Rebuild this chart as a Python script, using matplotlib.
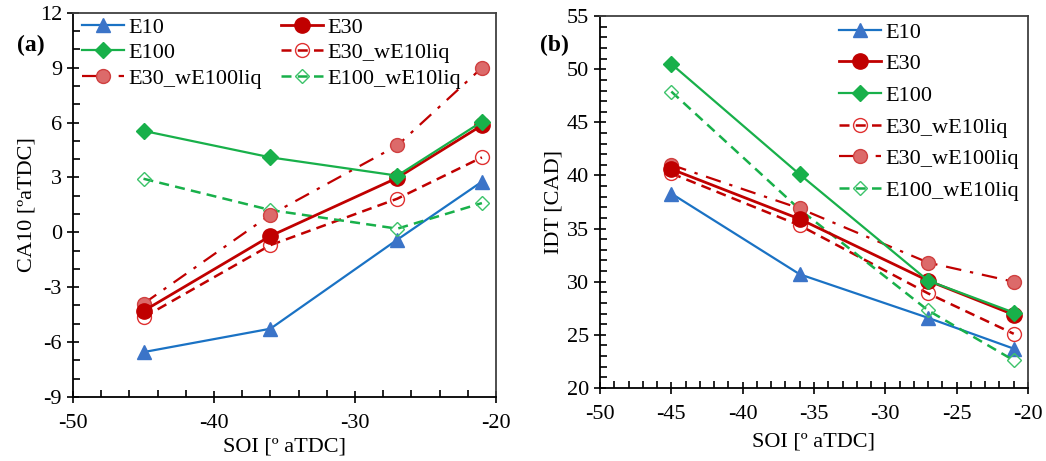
import matplotlib
matplotlib.use("Agg")
import matplotlib.pyplot as plt
from matplotlib.ticker import MultipleLocator

plt.rcParams['font.family'] = ['Liberation Serif', 'DejaVu Serif']
plt.rcParams['axes.unicode_minus'] = False

soi = [-45, -36, -27, -21]

# CA10 [°aTDC]
ca10_e10 = [-6.55, -5.27, -0.4, 2.77]
ca10_e30 = [-4.3, -0.2, 2.98, 5.85]
ca10_e100 = [5.55, 4.1, 3.1, 6.05]
ca10_e30_we10 = [-4.65, -0.7, 1.84, 4.1]
ca10_e30_we100 = [-3.9, 0.96, 4.75, 9.0]
ca10_e100_we10 = [2.93, 1.22, 0.2, 1.6]

# IDT [CAD]
idt_e10 = [38.3, 30.7, 26.6, 23.7]
idt_e30 = [40.6, 35.9, 30.1, 26.9]
idt_e100 = [50.5, 40.1, 30.1, 27.1]
idt_e30_we10 = [40.2, 35.3, 28.9, 25.1]
idt_e30_we100 = [41.0, 36.9, 31.8, 30.0]
idt_e100_we10 = [47.9, 36.8, 27.3, 22.6]

labels = ['E10', 'E30', 'E100', 'E30_wE10liq', 'E30_wE100liq', 'E100_wE10liq']

BLUE = '#1a72c4'
BLUE_M = '#3b74c8'
RED = '#c00000'
RED_M = '#dc6a6a'
GREEN = '#18b04a'
GREEN_L = '#3cc36a'

styles = {
    'E10': dict(color=BLUE, lw=1.6, marker='^', ms=10, mfc=BLUE_M, mec=BLUE_M),
    'E30': dict(color=RED, lw=2.0, marker='o', ms=11, mfc=RED, mec=RED),
    'E100': dict(color=GREEN, lw=1.6, marker='D', ms=8, mfc=GREEN, mec=GREEN),
    'E30_wE10liq': dict(color=RED, lw=1.8, ls=(0, (4, 2.5)), marker='o', ms=10,
                        mfc='none', mec='#e03030', mew=1.0),
    'E30_wE100liq': dict(color=RED, lw=1.6, ls=(0, (7, 4, 1.5, 4)), marker='o', ms=10,
                         mfc=RED_M, mec='#d04040', mew=1.0),
    'E100_wE10liq': dict(color=GREEN, lw=1.8, ls=(0, (4, 2.5)), marker='D', ms=7,
                         mfc='none', mec=GREEN_L, mew=1.0),
}

fig = plt.figure(figsize=(10.46, 4.61), dpi=100)
ax1 = fig.add_axes([0.0698, 0.139, 0.4044, 0.833])
ax2 = fig.add_axes([0.5736, 0.1584, 0.4092, 0.8066])


def style_axis(ax):
    ax.tick_params(axis='both', which='major', direction='inout', length=9,
                   width=1.2, labelsize=16, colors='black')
    ax.tick_params(axis='both', which='minor', direction='in', length=5, width=1.2)
    for side in ('left', 'bottom', 'right', 'top'):
        ax.spines[side].set_linewidth(1.3)
    for side in ('right', 'top'):
        ax.spines[side].set_color('#404040')
    ax.tick_params(axis='x', pad=8)


# Panel (a): CA10
data1 = [ca10_e10, ca10_e30, ca10_e100, ca10_e30_we10, ca10_e30_we100, ca10_e100_we10]
draw_order = [0, 3, 5, 4, 1, 2]
lines1 = {}
for i in draw_order:
    lines1[labels[i]], = ax1.plot(soi, data1[i], label=labels[i], **styles[labels[i]])
ax1.set_xlim(-50, -20)
ax1.set_ylim(-9, 12)
ax1.xaxis.set_major_locator(MultipleLocator(10))
ax1.xaxis.set_minor_locator(MultipleLocator(2))
ax1.yaxis.set_major_locator(MultipleLocator(3))
ax1.yaxis.set_minor_locator(MultipleLocator(1))
style_axis(ax1)
ax1.set_xlabel('SOI [º aTDC]', fontsize=16, labelpad=3)
ax1.set_ylabel('CA10 [ºaTDC]', fontsize=16, labelpad=2)
order1 = ['E10', 'E100', 'E30_wE100liq', 'E30', 'E30_wE10liq', 'E100_wE10liq']
ax1.legend([lines1[k] for k in order1], order1, ncol=2, loc='upper left',
           frameon=False, fontsize=16, handlelength=1.9, handletextpad=0.2,
           columnspacing=0.85, labelspacing=0.22, borderaxespad=0.0,
           bbox_to_anchor=(0.0, 1.012))
fig.text(0.016, 0.89, '(a)', fontsize=17, fontweight='bold')

# Panel (b): IDT
data2 = [idt_e10, idt_e30, idt_e100, idt_e30_we10, idt_e30_we100, idt_e100_we10]
lines2 = {}
for i in draw_order:
    lines2[labels[i]], = ax2.plot(soi, data2[i], label=labels[i], **styles[labels[i]])
ax2.set_xlim(-50, -20)
ax2.set_ylim(20, 55)
ax2.xaxis.set_major_locator(MultipleLocator(5))
ax2.xaxis.set_minor_locator(MultipleLocator(1))
ax2.yaxis.set_major_locator(MultipleLocator(5))
ax2.yaxis.set_minor_locator(MultipleLocator(1))
style_axis(ax2)
ax2.set_xlabel('SOI [º aTDC]', fontsize=16, labelpad=6)
ax2.set_ylabel('IDT [CAD]', fontsize=16, labelpad=2)
ax2.legend([lines2[k] for k in labels], labels, loc='upper right',
           frameon=False, fontsize=16, handlelength=1.9, handletextpad=0.2,
           labelspacing=0.5, borderaxespad=0.0, bbox_to_anchor=(1.0, 1.008))
fig.text(0.516, 0.89, '(b)', fontsize=17, fontweight='bold')

fig.savefig('out.png', dpi=100)
